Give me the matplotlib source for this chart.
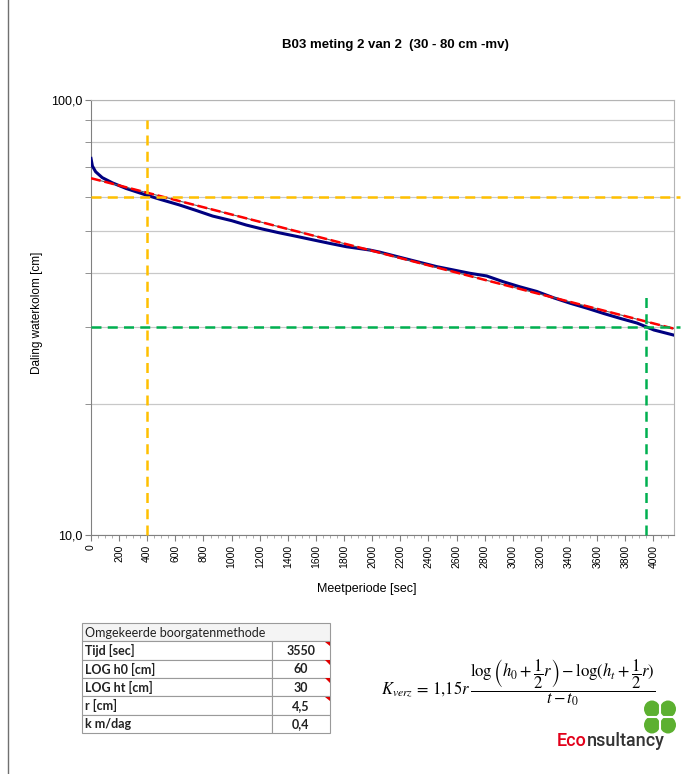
import matplotlib
matplotlib.use("Agg")
import matplotlib.pyplot as plt
from matplotlib.patches import Rectangle, Polygon, Ellipse
from matplotlib.ticker import FixedLocator, MultipleLocator, NullFormatter

tijd = [0, 10, 33, 80, 152, 250, 390, 500, 627, 750, 865, 1000, 1103, 1220, 1340, 1460,
        1578, 1700, 1816, 1982, 2053, 2220, 2458, 2695, 2814, 2933, 3050, 3170, 3290,
        3408, 3530, 3646, 3760, 3884, 4003, 4146]
daling = [73.4, 70.5, 68.4, 66.3, 64.5, 62.6, 60.5, 59.0, 57.4, 55.7, 54.1, 52.8, 51.6,
          50.5, 49.5, 48.6, 47.7, 46.8, 46.0, 45.2, 44.7, 43.3, 41.4, 39.96, 39.4, 38.2,
          37.2, 36.3, 35.1, 34.1, 33.2, 32.3, 31.5, 30.7, 29.6, 28.8]

# exponential trend line end points
trend_t = [0, 4146]
trend_h = [66.1, 29.8]

# guide lines
t0, h0 = 400, 60
t1, h1 = 3950, 30
guide_top = [90, 36]
guide_right = 4192

x_ticks = list(range(0, 4001, 200))

tabel_titel = "Omgekeerde boorgatenmethode"
tabel_namen = ["Tijd [sec]", "LOG h0 [cm]", "LOG ht [cm]", "r [cm]", "k m/dag"]
tabel_waarden = ["3550", "60", "30", "4,5", "0,4"]

W, H = 692, 774
plt.rcParams['font.family'] = ['Liberation Sans', 'DejaVu Sans']
plt.rcParams['mathtext.fontset'] = 'stix'
fig = plt.figure(figsize=(W / 100, H / 100), dpi=100)


def fx(x):
    return x / W


def fy(y):
    return 1 - y / H


ax = fig.add_axes([fx(91), fy(535), fx(674) - fx(91), fy(100) - fy(535)])
ax.set_yscale('log')
ax.set_ylim(10, 100)
ax.set_xlim(0, 4146)

ax.yaxis.set_major_locator(FixedLocator([10, 100]))
ax.yaxis.set_minor_locator(FixedLocator([20, 30, 40, 50, 60, 70, 80, 90]))
ax.yaxis.set_minor_formatter(NullFormatter())
ax.set_yticklabels(["10,0", "100,0"], fontsize=9)
ax.grid(True, which='minor', axis='y', color='#c8c8c8', lw=0.9)
ax.grid(True, which='major', axis='y', color='#c8c8c8', lw=0.9)
ax.tick_params(axis='y', which='both', length=4, color='#808080', pad=2)

ax.set_xticks(x_ticks)
ax.set_xticklabels([str(v) for v in x_ticks], rotation=90, fontsize=7.5)
ax.xaxis.set_minor_locator(MultipleLocator(50))
ax.tick_params(axis='x', which='major', length=4, color='#808080', pad=3)
ax.tick_params(axis='x', which='minor', length=2, color='#a0a0a0')

for s in ['left', 'bottom']:
    ax.spines[s].set_color('#808080')
for s in ['top', 'right']:
    ax.spines[s].set_color('#b4b4b4')

ax.plot(tijd, daling, color='#000080', lw=2.2, zorder=3)
ax.plot(trend_t, trend_h, color='#606060', lw=0.8, zorder=4)
ax.plot(trend_t, trend_h, color='#ff0000', lw=1.8, dashes=(4, 1.5), zorder=5)

oranje = '#ffc000'
groen = '#00b050'
ax.plot([t0, t0], [10, guide_top[0]], color=oranje, lw=1.8, dashes=(4, 2.5), zorder=6, clip_on=False)
ax.plot([0, guide_right], [h0, h0], color=oranje, lw=1.8, dashes=(4, 2.5), zorder=6, clip_on=False)
ax.plot([t1, t1], [10, guide_top[1]], color=groen, lw=1.8, dashes=(4, 2.5), zorder=6, clip_on=False)
ax.plot([0, guide_right], [h1, h1], color=groen, lw=1.8, dashes=(4, 2.5), zorder=6, clip_on=False)

fig.text(fx(395), fy(45), "B03 meting 2 van 2  (30 - 80 cm -mv)", ha='center', va='center',
         fontsize=9.5, fontweight='bold')
fig.text(fx(367), fy(589), "Meetperiode [sec]", ha='center', va='center', fontsize=9)
fig.text(fx(37), fy(313), "Daling waterkolom [cm]", ha='center', va='center', fontsize=8.5, rotation=90)

# page border on the left
fig.add_artist(plt.Line2D([fx(8), fx(8)], [0, 1], color='#707070', lw=1))

# table
tab = fig.add_axes([0, 0, 1, 1], facecolor='none')
tab.set_xlim(0, W)
tab.set_ylim(H, 0)
tab.axis('off')
x_l, x_m, x_r = 82, 272, 330
y_top, rij_h = 623, 18.3
tab.add_patch(Rectangle((x_l, y_top), x_r - x_l, rij_h, facecolor='#f4f4f4',
                        edgecolor='#9a9a9a', lw=0.8))
tab.text(x_l + 3, y_top + rij_h / 2 + 0.5, tabel_titel, va='center', ha='left', fontsize=9,
         family=['Lato', 'DejaVu Sans'], color='#222222')
for i, (naam, waarde) in enumerate(zip(tabel_namen, tabel_waarden)):
    y = y_top + (i + 1) * rij_h
    tab.add_patch(Rectangle((x_l, y), x_m - x_l, rij_h, facecolor='white', edgecolor='#9a9a9a', lw=0.8))
    tab.add_patch(Rectangle((x_m, y), x_r - x_m, rij_h, facecolor='white', edgecolor='#9a9a9a', lw=0.8))
    tab.text(x_l + 3, y + rij_h / 2 + 0.5, naam, va='center', ha='left', fontsize=9,
             family=['Lato', 'DejaVu Sans'], color='#222222', fontweight='bold')
    tab.text((x_m + x_r) / 2, y + rij_h / 2 + 0.5, waarde, va='center', ha='center', fontsize=9,
             family=['Lato', 'DejaVu Sans'], color='#222222', fontweight='bold')
    if i < 4:
        tab.add_patch(Polygon([(x_r - 5, y + 0.5), (x_r - 0.5, y + 0.5), (x_r - 0.5, y + 5)],
                              closed=True, color='#e00000', lw=0))

# formula
fig.text(fx(518), fy(683),
         r"$K_{verz}\,=\,1{,}15r\,\dfrac{\log\left(h_0+\dfrac{1}{2}r\right)-\log(h_t+\dfrac{1}{2}r)}{t-t_0}$",
         ha='center', va='center', fontsize=12)

# logo
eco = tab.text(557, 741, "Eco", color='#e2001a', fontsize=13, ha='left', va='center',
               family=['Roboto', 'DejaVu Sans'], fontweight='medium')
fig.canvas.draw()
bb = eco.get_window_extent()
tab.text(557 + bb.width, 741, "nsultancy", color='#333333', fontsize=13, ha='left', va='center',
         family=['Roboto', 'DejaVu Sans'], fontweight='medium')
for cx, cy in [(652, 709), (668, 709), (652, 725), (668, 725)]:
    tab.add_patch(Ellipse((cx, cy), 16, 17, color='#5cb030', lw=0))
tab.plot([660, 660], [699, 735], color='white', lw=1.5)
tab.plot([643, 677], [717, 717], color='white', lw=1.5)

fig.savefig("out.png", dpi=100)
